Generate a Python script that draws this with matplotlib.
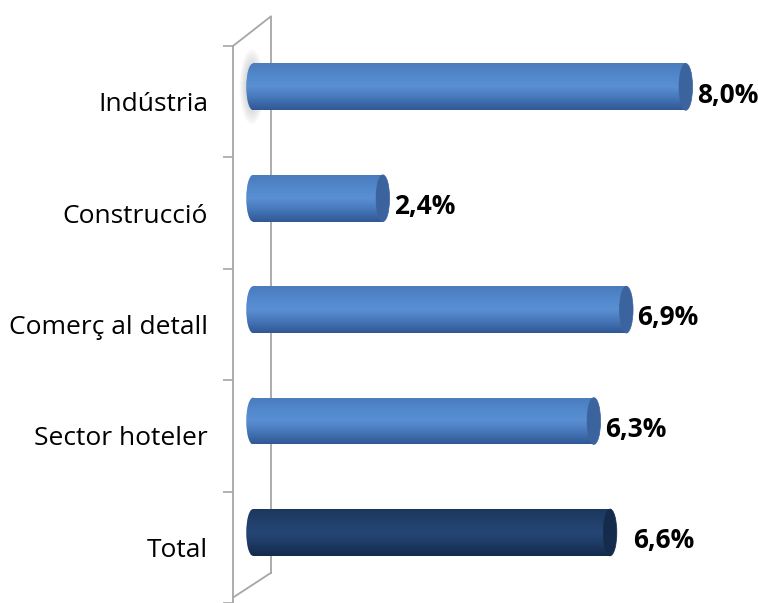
import numpy as np
import matplotlib
matplotlib.use("Agg")
import matplotlib.pyplot as plt
from matplotlib.patches import Ellipse, Rectangle
from matplotlib.colors import LinearSegmentedColormap

categories = ["Indústria", "Construcció", "Comerç al detall", "Sector hoteler", "Total"]
values = [8.0, 2.4, 6.9, 6.3, 6.6]
labels = ["8,0%", "2,4%", "6,9%", "6,3%", "6,6%"]

plt.rcParams['font.family'] = ['Open Sans', 'DejaVu Sans']

W, H = 758, 603
fig = plt.figure(figsize=(W / 100, H / 100), dpi=100)

# axes pixel box: left wall line at x=233, top boundary at y=46
px_per_unit = 54.1
x0_px = 253
ax_left, ax_top = 233, 46
ax = fig.add_axes([ax_left / W, 0, (W - ax_left) / W, (H - ax_top) / H])
ax.set_xlim(-(x0_px - ax_left) / px_per_unit, (W - x0_px) / px_per_unit)
step = 112.5
ax.set_ylim(4.5 - (H - ax_top) / step, 4.5)

blue_cmap = LinearSegmentedColormap.from_list(
    "blue", ["#2f5894", "#4676b8", "#5a8fd4", "#5187cb", "#4a7bbd"])
navy_cmap = LinearSegmentedColormap.from_list(
    "navy", ["#132a4b", "#1d3a64", "#254775", "#213f6a", "#1c3860"])
grad = np.linspace(0, 1, 64).reshape(-1, 1)

bar_h = 0.42
cap_w = 0.25
lift = 15 / step   # bars sit a little above the category centre (3D depth)
n = len(categories)
for i, (cat, v, lab) in enumerate(zip(categories, values, labels)):
    y = n - 1 - i + lift
    is_total = cat == "Total"
    cmap = navy_cmap if is_total else blue_cmap
    cap_col = "#152b4c" if is_total else "#3b639d"

    ext = (-cap_w, v, y - bar_h / 2, y + bar_h / 2)
    body = Rectangle((0, y - bar_h / 2), v, bar_h, transform=ax.transData)
    left = Ellipse((0, y), cap_w, bar_h, transform=ax.transData)
    for clip in (body, left):
        im = ax.imshow(grad, cmap=cmap, extent=ext, aspect="auto",
                       origin="lower", interpolation="bicubic", zorder=2)
        im.set_clip_path(clip)
    ax.add_patch(Ellipse((v, y), cap_w, bar_h, facecolor=cap_col,
                         edgecolor=cap_col, lw=0.5, zorder=3))

    off = 12 if is_total else 3
    ax.annotate(lab, (v + cap_w / 2, y), xytext=(off, -6),
                textcoords="offset points", ha="left", va="center",
                fontsize=19, fontweight="bold", color="black")

# faint shadow behind the first bar's left end
for k in range(6):
    ax.add_patch(Ellipse((-0.02, n - 1 + lift), cap_w + 0.04 * k, bar_h + 0.05 * k,
                         facecolor="#808080", alpha=0.05, lw=0, zorder=1))

# wall: left spine plus a slanted back panel
wall = "#a6a6a6"
for s in ["top", "right", "bottom"]:
    ax.spines[s].set_visible(False)
ax.spines["left"].set_color(wall)
ax.spines["left"].set_linewidth(1.3)
dx = 38 / px_per_unit
xl = ax.get_xlim()[0]
yb = ax.get_ylim()[0]
ax.plot([xl, xl + dx, xl + dx], [4.5, 4.5 + 30 / step, yb + 25 / step],
        color=wall, lw=1.3, clip_on=False, zorder=1)
ax.plot([xl, xl + dx], [yb, yb + 25 / step], color=wall, lw=1.3,
        clip_on=False, zorder=1)

ax.set_yticks([i - 0.5 for i in range(n + 1)])
ax.set_yticklabels([])
ax.set_yticks(list(range(n)), minor=True)
ax.set_yticklabels(categories[::-1], minor=True, fontsize=19)
ax.tick_params(axis="y", which="major", length=7, color=wall, width=1.2)
ax.tick_params(axis="y", which="minor", length=0, pad=18)
ax.set_xticks([])

fig.savefig("out.png", dpi=100)
